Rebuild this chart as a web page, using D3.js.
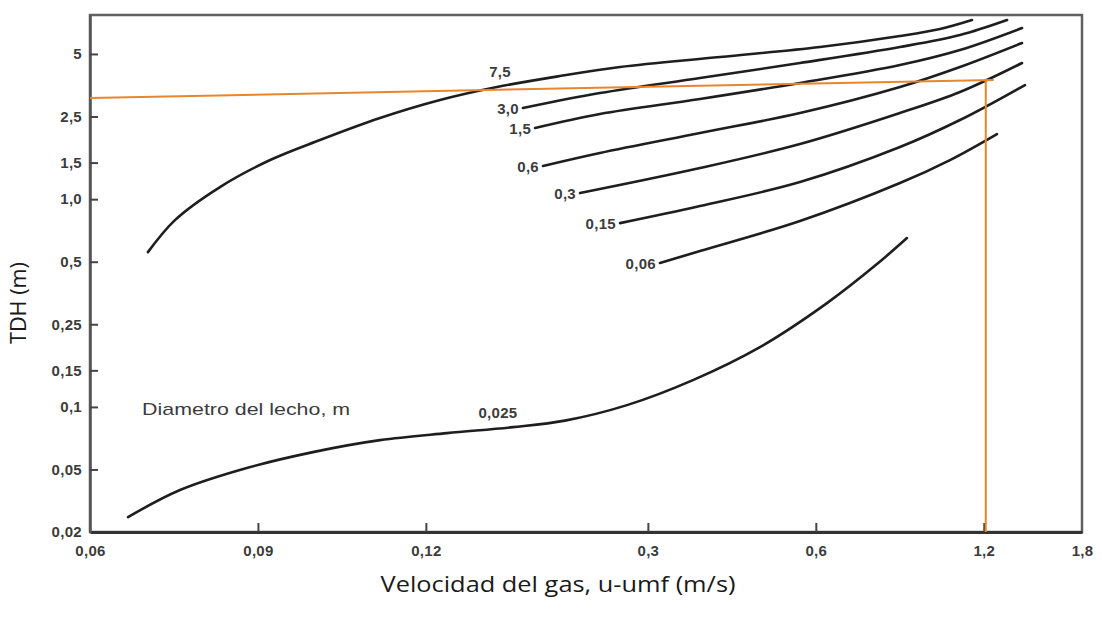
<!DOCTYPE html>
<html><head><meta charset="utf-8">
<script src="https://cdn.jsdelivr.net/npm/d3@7"></script>
<style>body{margin:0;background:#fff}</style>
</head><body><svg id="c" width="1102" height="618"></svg>
<script>
// ---- data ----
const xTickValues = [0.03, 0.06, 0.12, 0.3, 0.6, 1.2, 1.8];
const xTickLabels = ["0,06", "0,09", "0,12", "0,3", "0,6", "1,2", "1,8"];
const yTickValues = [5, 2.5, 1.5, 1, 0.5, 0.25, 0.15, 0.1, 0.05, 0.025];
const yTickLabels = ["5", "2,5", "1,5", "1,0", "0,5", "0,25", "0,15", "0,1", "0,05", "0,02"];

const seriesNames = ["7,5", "3,0", "1,5", "0,6", "0,3", "0,15", "0,06", "0,025"];
const d75 = [[0.0381,0.556],[0.0426,0.793],[0.0513,1.144],[0.0631,1.543],[0.0775,1.926],[0.0993,2.458],[0.1272,3.001],[0.1609,3.466],[0.2087,3.915],[0.2674,4.326],[0.4041,4.834],[0.6105,5.400],[0.8491,6.100],[1.0016,6.594],[1.1429,7.285]];
const d30 = [[0.1791,2.746],[0.2461,3.243],[0.3720,3.830],[0.5620,4.522],[0.8491,5.400],[1.0877,6.168],[1.3210,7.285]];
const d15 = [[0.1883,2.200],[0.2461,2.570],[0.3720,3.034],[0.5620,3.624],[0.8491,4.424],[1.0877,5.224],[1.4052,6.667]];
const d06 = [[0.1946,1.444],[0.2461,1.668],[0.3720,2.082],[0.5620,2.598],[0.8491,3.466],[1.0877,4.326],[1.4052,5.645]];
const d03 = [[0.2267,1.070],[0.3720,1.412],[0.5620,1.842],[0.8491,2.598],[1.0877,3.279],[1.4052,4.522]];
const d015 = [[0.2674,0.767],[0.3720,0.927],[0.5620,1.209],[0.8491,1.782],[1.0877,2.404],[1.4225,3.544]];
const d006 = [[0.3153,0.493],[0.3720,0.563],[0.5620,0.785],[0.8491,1.196],[1.0438,1.543],[1.2672,2.059]];
const d0025 = [[0.0351,0.0295],[0.0435,0.0398],[0.0573,0.0508],[0.0753,0.0606],[0.0993,0.0692],[0.1309,0.0748],[0.1719,0.0799],[0.2130,0.0859],[0.2752,0.1020],[0.3613,0.1346],[0.4764,0.194],[0.6283,0.316],[0.7723,0.487],[0.8739,0.650]];
const seriesData = [d75, d30, d15, d06, d03, d015, d006, d0025];

// orange reading lines
const readingH = [[0.03, 3.07], [1.25, 3.75]];
const readingV = [[1.21, 3.80], [1.21, 0.025]];

// ---- layout ----
const svg = d3.select("#c");
const x = d3.scaleLog().domain([0.03, 1.8]).range([90, 1082]);
const y = d3.scaleLog().domain([0.025, 7.7]).range([532, 15]);

// label placement (data coords) for the two labels written above their curves
const aboveLabel = {"7,5": [0.163, 4.09], "0,025": [0.1616, 0.0934]};

const tickFont = "'Liberation Sans', Arial, sans-serif";
const ink = "#3c3c3c";

// frame
svg.append("rect").attr("x", x.range()[0]).attr("y", y.range()[1])
  .attr("width", x.range()[1] - x.range()[0]).attr("height", y.range()[0] - y.range()[1])
  .attr("fill", "none").attr("stroke", "#606060").attr("stroke-width", 2.5);

// axes
const xAxis = d3.axisBottom(x).tickValues(xTickValues)
  .tickFormat((d, i) => xTickLabels[i]).tickSizeInner(-9).tickSizeOuter(0).tickPadding(13);
const gx = svg.append("g").attr("transform", `translate(0,${y.range()[0]})`).call(xAxis);
gx.select(".domain").attr("stroke", "#333").attr("stroke-width", 3);
gx.selectAll(".tick line").attr("stroke", "#444").attr("stroke-width", 2);
gx.selectAll(".tick text").attr("font-family", tickFont).attr("font-weight", "bold")
  .attr("font-size", 15).attr("fill", ink).attr("letter-spacing", 0.3);

const yAxis = d3.axisLeft(y).tickValues(yTickValues)
  .tickFormat((d, i) => yTickLabels[i]).tickSizeInner(-8).tickSizeOuter(0).tickPadding(8);
const gy = svg.append("g").attr("transform", `translate(${x.range()[0]},0)`).call(yAxis);
gy.select(".domain").attr("stroke", "#555").attr("stroke-width", 2.5);
gy.selectAll(".tick line").attr("stroke", "#444").attr("stroke-width", 2);
gy.selectAll(".tick text").attr("font-family", tickFont).attr("font-weight", "bold")
  .attr("font-size", 15).attr("fill", ink).attr("letter-spacing", 0.3);
gy.selectAll(".tick").filter(d => d === 0.025).select("line").remove();
gx.selectAll(".tick").filter(d => d === 0.03 || d === 1.8).select("line").remove();

// curves
const line = d3.line().x(d => x(d[0])).y(d => y(d[1])).curve(d3.curveCatmullRom.alpha(0.5));
svg.append("g").selectAll("path").data(seriesData).join("path")
  .attr("d", line).attr("fill", "none").attr("stroke", "#1e1e1e")
  .attr("stroke-width", 2.6).attr("stroke-linecap", "round");

// curve labels
seriesNames.forEach((name, i) => {
  const d0 = seriesData[i][0];
  const t = svg.append("text").text(name)
    .attr("font-family", tickFont).attr("font-weight", "bold")
    .attr("font-size", 15).attr("fill", ink).attr("letter-spacing", 0.3);
  if (aboveLabel[name]) {
    t.attr("x", x(aboveLabel[name][0])).attr("y", y(aboveLabel[name][1]))
     .attr("text-anchor", "middle").attr("dy", "0.35em");
  } else {
    t.attr("x", x(d0[0]) - 4).attr("y", y(d0[1])).attr("text-anchor", "end").attr("dy", "0.4em");
  }
});

// legend caption
svg.append("text").text("Diametro del lecho, m")
  .attr("x", x(0.0372)).attr("y", y(0.1)).attr("dy", "0.45em")
  .attr("font-family", tickFont).attr("font-size", 17).attr("fill", ink)
  .attr("textLength", 208).attr("lengthAdjust", "spacingAndGlyphs");

// orange reading lines
const orange = "#e8862c";
svg.append("path").attr("d", d3.line().x(d => x(d[0])).y(d => y(d[1]))(readingH))
  .attr("fill", "none").attr("stroke", orange).attr("stroke-width", 2);
svg.append("path").attr("d", d3.line().x(d => x(d[0])).y(d => y(d[1]))(readingV))
  .attr("fill", "none").attr("stroke", orange).attr("stroke-width", 2);

// axis titles
svg.append("text").text("Velocidad del gas, u-umf (m/s)")
  .attr("x", 558).attr("y", 592).attr("text-anchor", "middle")
  .attr("font-family", "'Open Sans', sans-serif").attr("font-size", 21).attr("fill", "#1a1a1a")
  .attr("textLength", 355).attr("lengthAdjust", "spacingAndGlyphs");
svg.append("text").text("TDH (m)")
  .attr("transform", "translate(26,303) rotate(-90)").attr("text-anchor", "middle")
  .attr("font-family", "'Open Sans', sans-serif").attr("font-size", 21).attr("fill", "#1a1a1a")
  .attr("textLength", 82).attr("lengthAdjust", "spacingAndGlyphs");
</script>
</body></html>
